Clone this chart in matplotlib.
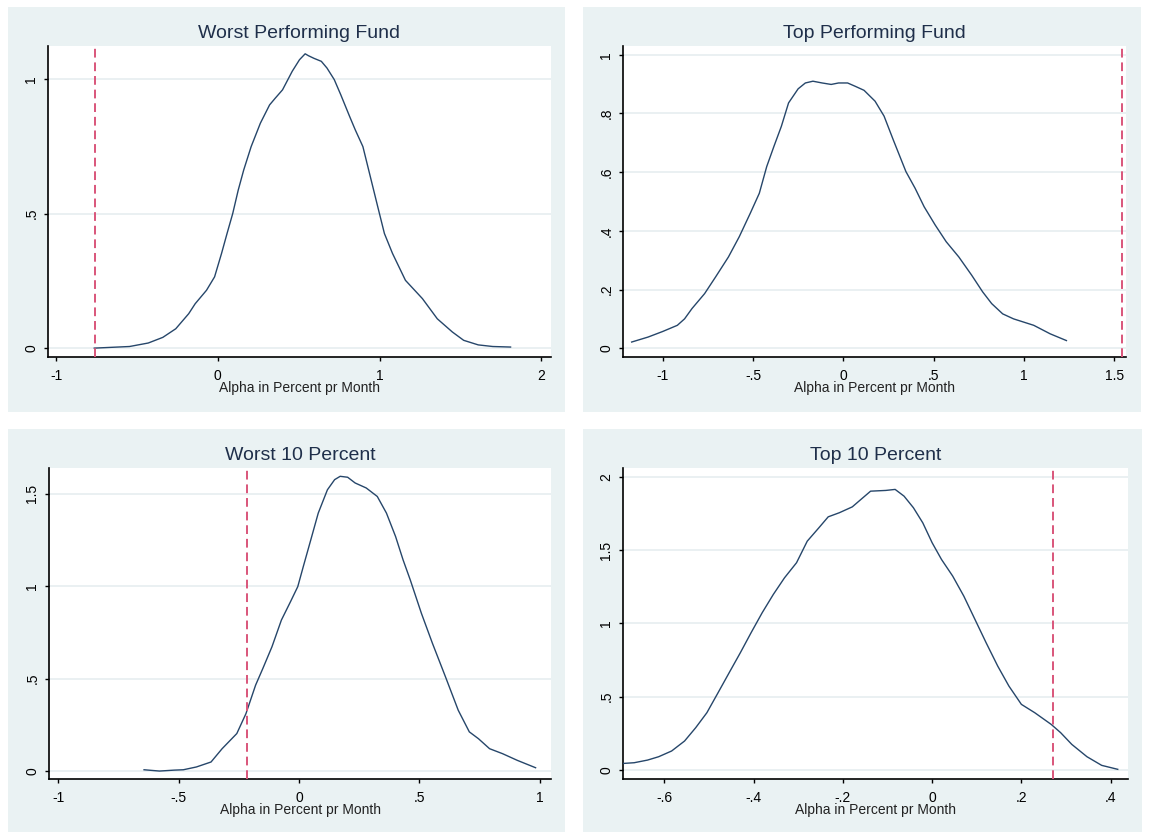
import matplotlib
matplotlib.use("Agg")
import matplotlib.pyplot as plt
from matplotlib.ticker import FuncFormatter

plt.rcParams['font.family'] = ['Liberation Sans', 'DejaVu Sans']

# ---------------- data ----------------
titles = ["Worst Performing Fund", "Top Performing Fund", "Worst 10 Percent", "Top 10 Percent"]
xlabel_text = "Alpha in Percent pr Month"

worst_fund_x = [-0.764, -0.546, -0.43, -0.34, -0.26, -0.18, -0.14, -0.07, -0.02, 0.023, 0.057, 0.092,
                0.126, 0.16, 0.206, 0.263, 0.32, 0.355, 0.40, 0.46, 0.505, 0.54, 0.56, 0.595, 0.64,
                0.675, 0.72, 0.76, 0.815, 0.85, 0.897, 0.943, 0.989, 1.03, 1.08, 1.16, 1.265, 1.357,
                1.45, 1.52, 1.61, 1.70, 1.81]
worst_fund_y = [0.0, 0.006, 0.019, 0.04, 0.072, 0.128, 0.165, 0.215, 0.265, 0.352, 0.426, 0.50,
                0.587, 0.662, 0.749, 0.836, 0.904, 0.929, 0.96, 1.029, 1.072, 1.094, 1.087, 1.077,
                1.066, 1.041, 0.998, 0.942, 0.861, 0.811, 0.749, 0.637, 0.525, 0.426, 0.352, 0.252,
                0.184, 0.109, 0.06, 0.029, 0.012, 0.006, 0.004]
worst_fund_line = -0.76

top_fund_x = [-1.172, -1.081, -1.0, -0.919, -0.879, -0.838, -0.768, -0.707, -0.636, -0.576, -0.515,
              -0.465, -0.424, -0.384, -0.343, -0.303, -0.25, -0.21, -0.168, -0.117, -0.067, -0.026,
              0.024, 0.065, 0.115, 0.176, 0.226, 0.277, 0.347, 0.398, 0.448, 0.509, 0.57, 0.64,
              0.711, 0.772, 0.822, 0.883, 0.943, 1.055, 1.146, 1.236]
top_fund_y = [0.021, 0.038, 0.057, 0.078, 0.10, 0.135, 0.186, 0.243, 0.311, 0.38, 0.46, 0.528,
              0.619, 0.688, 0.756, 0.836, 0.884, 0.904, 0.91, 0.904, 0.899, 0.904, 0.904, 0.893,
              0.879, 0.842, 0.791, 0.71, 0.602, 0.545, 0.482, 0.42, 0.363, 0.311, 0.249, 0.192,
              0.152, 0.117, 0.10, 0.078, 0.049, 0.026]
top_fund_line = 1.543

worst10_x = [-0.643, -0.579, -0.518, -0.48, -0.426, -0.365, -0.319, -0.258, -0.22, -0.18, -0.15,
             -0.112, -0.073, -0.035, -0.005, 0.018, 0.049, 0.08, 0.118, 0.148, 0.171, 0.202, 0.233,
             0.279, 0.325, 0.363, 0.401, 0.432, 0.462, 0.508, 0.554, 0.608, 0.661, 0.707, 0.745,
             0.791, 0.845, 0.906, 0.982]
worst10_y = [0.007, 0.0, 0.005, 0.007, 0.022, 0.049, 0.121, 0.203, 0.311, 0.465, 0.555, 0.673,
             0.817, 0.917, 0.998, 1.107, 1.251, 1.396, 1.522, 1.577, 1.595, 1.59, 1.559, 1.532,
             1.486, 1.396, 1.269, 1.143, 1.034, 0.854, 0.691, 0.51, 0.329, 0.212, 0.175, 0.121,
             0.094, 0.058, 0.018]
worst10_line = -0.217

top10_x = [-0.693, -0.668, -0.638, -0.613, -0.584, -0.555, -0.53, -0.505, -0.48, -0.455, -0.43,
           -0.406, -0.381, -0.356, -0.331, -0.304, -0.28, -0.254, -0.233, -0.208, -0.179, -0.158,
           -0.138, -0.104, -0.083, -0.063, -0.042, -0.021, 0.0, 0.021, 0.046, 0.071, 0.096, 0.121,
           0.147, 0.172, 0.2, 0.23, 0.267, 0.288, 0.313, 0.347, 0.38, 0.416]
top10_y = [0.045, 0.05, 0.068, 0.091, 0.13, 0.198, 0.289, 0.391, 0.527, 0.664, 0.80, 0.936, 1.073,
           1.198, 1.311, 1.414, 1.561, 1.652, 1.727, 1.755, 1.795, 1.85, 1.902, 1.907, 1.914, 1.868,
           1.789, 1.686, 1.55, 1.436, 1.323, 1.186, 1.027, 0.868, 0.709, 0.573, 0.448, 0.391, 0.311,
           0.255, 0.175, 0.091, 0.032, 0.005]
top10_line = 0.27

xticks_list = [[-1, 0, 1, 2], [-1, -0.5, 0, 0.5, 1, 1.5], [-1, -0.5, 0, 0.5, 1],
               [-0.6, -0.4, -0.2, 0, 0.2, 0.4]]
yticks_list = [[0, 0.5, 1], [0, 0.2, 0.4, 0.6, 0.8, 1], [0, 0.5, 1, 1.5], [0, 0.5, 1, 1.5, 2]]
xlims = [(-1.05, 2.06), (-1.22, 1.566), (-1.0375, 1.046), (-0.693, 0.439)]
ylims = [(-0.033, 1.123), (-0.03, 1.03), (-0.043, 1.64), (-0.061, 2.06)]

series_x = [worst_fund_x, top_fund_x, worst10_x, top10_x]
series_y = [worst_fund_y, top_fund_y, worst10_y, top10_y]
ref_lines = [worst_fund_line, top_fund_line, worst10_line, top10_line]

# ---------------- layout (pixels) ----------------
W, H = 1149, 832
bg_rects = [(8, 7, 565, 412), (583, 7, 1141, 412), (8, 429, 565, 832), (583, 429, 1142, 832)]
plot_rects = [(48, 46, 551, 357), (623, 46, 1126, 357), (49, 468, 551, 779), (623, 468, 1128, 779)]

BG = "#EAF2F3"
GRID = "#E6EEF0"
NAVY = "#26466a"
RED = "#d9557a"
TITLE_C = "#1f2f4a"


def stata_fmt(v, pos=None):
    s = f"{v:g}"
    if s.startswith("0."):
        s = s[1:]
    elif s.startswith("-0."):
        s = "-" + s[2:]
    return s


fig = plt.figure(figsize=(W / 100, H / 100), dpi=100)
fig.patch.set_facecolor("white")

# panel backgrounds as axes placed underneath
for (x0, y0, x1, y1) in bg_rects:
    bax = fig.add_axes([x0 / W, 1 - y1 / H, (x1 - x0) / W, (y1 - y0) / H], zorder=-5)
    bax.set_facecolor(BG)
    bax.set_xticks([])
    bax.set_yticks([])
    for s in bax.spines.values():
        s.set_visible(False)

for i in range(4):
    x0, y0, x1, y1 = plot_rects[i]
    ax = fig.add_axes([x0 / W, 1 - y1 / H, (x1 - x0) / W, (y1 - y0) / H], zorder=1)
    ax.set_facecolor("white")
    ax.set_xlim(*xlims[i])
    ax.set_ylim(*ylims[i])
    ax.set_xticks(xticks_list[i])
    ax.set_yticks(yticks_list[i])
    ax.xaxis.set_major_formatter(FuncFormatter(stata_fmt))
    ax.yaxis.set_major_formatter(FuncFormatter(stata_fmt))
    for t in yticks_list[i]:
        ax.axhline(t, color=GRID, lw=1.2, zorder=1)
    ax.plot(series_x[i], series_y[i], color=NAVY, lw=1.0, zorder=3)
    ax.axvline(ref_lines[i], color=RED, lw=1.4, dashes=(4.5, 2.5), zorder=4)
    for s in ["top", "right"]:
        ax.spines[s].set_visible(False)
    for s in ["left", "bottom"]:
        ax.spines[s].set_color("black")
        ax.spines[s].set_linewidth(1.2)
    ax.tick_params(axis="both", direction="out", length=3, width=1, color="black",
                   labelsize=10, labelcolor="black")
    ax.tick_params(axis="x", pad=6)
    ax.tick_params(axis="y", pad=4)
    plt.setp(ax.get_yticklabels(), rotation=90, va="center")
    ax.set_xlabel(xlabel_text, fontsize=10, color="#222222", labelpad=-1.5)
    ax.set_title(titles[i], fontsize=14, color=TITLE_C, pad=6)

fig.savefig("out.png", dpi=100, facecolor="white")
